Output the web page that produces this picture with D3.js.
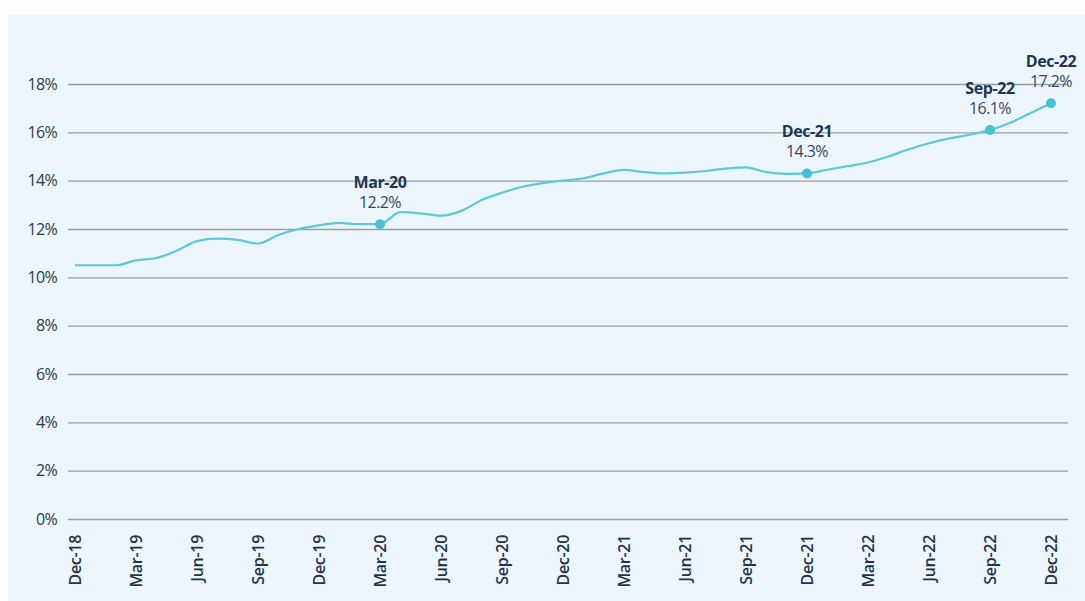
<!doctype html>
<html lang="en">
  <head>
    <meta charset="utf-8">
    <title>Ratio trend</title>
    <script src="https://d3js.org/d3.v7.min.js"></script>
    <style>
    body { margin: 0; background: #fbfdfe; }
    text { font-family: "Open Sans", sans-serif; }
    .grid line { stroke: #969fa5; stroke-width: 1.3; }
    </style>
  </head>
  <body>
    <svg width="1085" height="601"></svg>
    <script>
      // monthly values, Dec-18 .. Dec-22
      var months = [
        'Dec-18','Jan-19','Feb-19','Mar-19','Apr-19','May-19','Jun-19','Jul-19','Aug-19','Sep-19','Oct-19','Nov-19',
        'Dec-19','Jan-20','Feb-20','Mar-20','Apr-20','May-20','Jun-20','Jul-20','Aug-20','Sep-20','Oct-20','Nov-20',
        'Dec-20','Jan-21','Feb-21','Mar-21','Apr-21','May-21','Jun-21','Jul-21','Aug-21','Sep-21','Oct-21','Nov-21',
        'Dec-21','Jan-22','Feb-22','Mar-22','Apr-22','May-22','Jun-22','Jul-22','Aug-22','Sep-22','Oct-22','Nov-22',
        'Dec-22'
      ];
      var values = [
        10.5, 10.5, 10.5, 10.7, 10.8, 11.1, 11.5, 11.6, 11.55, 11.4, 11.75, 12.0,
        12.15, 12.25, 12.2, 12.2, 12.7, 12.65, 12.55, 12.75, 13.2, 13.5, 13.75, 13.9,
        14.0, 14.1, 14.3, 14.45, 14.35, 14.3, 14.33, 14.4, 14.5, 14.55, 14.35, 14.28,
        14.3, 14.45, 14.6, 14.75, 15.0, 15.3, 15.55, 15.75, 15.9, 16.1, 16.4, 16.8,
        17.2
      ];
      var yTicks = [0, 2, 4, 6, 8, 10, 12, 14, 16, 18];
      var xTicks = d3.range(0, 49, 3);
      var highlights = ['Mar-20', 'Dec-21', 'Sep-22', 'Dec-22'];

      var svg = d3.select('svg');

      svg.append('rect')
        .attr('x', 8).attr('y', 15)
        .attr('width', 1077).attr('height', 586)
        .attr('fill', '#edf6fc');

      var x = d3.scaleLinear().domain([0, 48]).range([75, 1051]);
      var y = d3.scaleLinear().domain([0, 18]).range([519, 84]);

      // gridlines + y labels
      var yAxis = d3.axisLeft(y)
        .tickValues(yTicks)
        .tickSize(-1000)
        .tickPadding(11)
        .tickFormat(function(d){ return d + '%'; });

      var gy = svg.append('g')
        .attr('class', 'grid')
        .attr('transform', 'translate(68, 0)')
        .call(yAxis);
      gy.select('.domain').remove();
      gy.selectAll('text')
        .attr('fill', '#2f3b45')
        .style('font-size', '16px')
        .style('letter-spacing', '-0.7px');

      // x labels, rotated
      var xAxis = d3.axisBottom(x)
        .tickValues(xTicks)
        .tickSize(0)
        .tickFormat(function(i){ return months[i]; });

      var gx = svg.append('g')
        .attr('transform', 'translate(0, 519)')
        .call(xAxis);
      gx.select('.domain').remove();
      gx.selectAll('text')
        .attr('transform', 'rotate(-90)')
        .attr('text-anchor', 'end')
        .attr('x', -16)
        .attr('y', 0)
        .attr('dy', '0.35em')
        .attr('fill', '#1f344b')
        .style('font-size', '16px')
        .style('font-weight', 600)
        .style('letter-spacing', '-0.3px');

      var line = d3.line()
        .x(function(d, i){ return x(i); })
        .y(function(d){ return y(d); })
        .curve(d3.curveMonotoneX);

      svg.append('path')
        .datum(values)
        .attr('d', line)
        .attr('fill', 'none')
        .attr('stroke', '#5ccadb')
        .attr('stroke-width', 2.2);

      var marks = highlights.map(function(m){ return months.indexOf(m); });

      var g = svg.selectAll('.mark')
        .data(marks)
        .enter().append('g')
          .attr('class', 'mark');

      g.append('circle')
        .attr('cx', function(i){ return x(i); })
        .attr('cy', function(i){ return y(values[i]); })
        .attr('r', 5)
        .attr('fill', '#47c1d6');

      g.append('text')
        .attr('x', function(i){ return x(i); })
        .attr('y', function(i){ return y(values[i]) - 36; })
        .attr('text-anchor', 'middle')
        .attr('fill', '#1d3752')
        .style('font-size', '16px')
        .style('font-weight', 700)
        .style('letter-spacing', '-0.4px')
        .text(function(i){ return months[i]; });

      g.append('text')
        .attr('x', function(i){ return x(i); })
        .attr('y', function(i){ return y(values[i]) - 16; })
        .attr('text-anchor', 'middle')
        .attr('fill', '#34495c')
        .style('font-size', '16px')
        .style('letter-spacing', '-0.6px')
        .text(function(i){ return values[i].toFixed(1) + '%'; });
    </script>
  </body>
</html>
